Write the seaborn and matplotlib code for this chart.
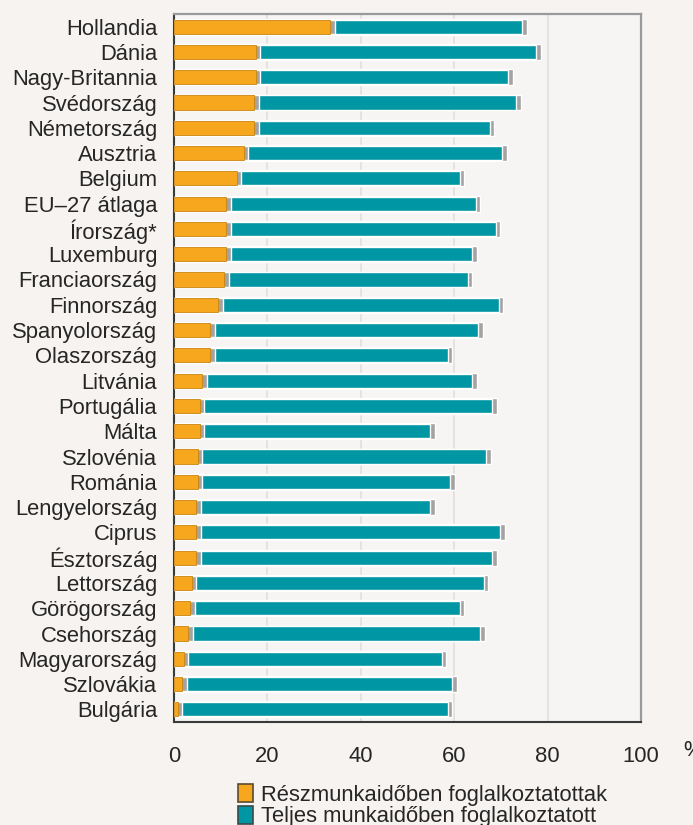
import matplotlib
matplotlib.use('Agg')
import matplotlib.pyplot as plt
from matplotlib.patches import Patch
from matplotlib.ticker import FixedLocator
import seaborn as sns
import pandas as pd

countries = ["Hollandia", "Dánia", "Nagy-Britannia", "Svédország", "Németország",
             "Ausztria", "Belgium", "EU–27 átlaga", "Írország*", "Luxemburg",
             "Franciaország", "Finnország", "Spanyolország", "Olaszország", "Litvánia",
             "Portugália", "Málta", "Szlovénia", "Románia", "Lengyelország",
             "Ciprus", "Észtország", "Lettország", "Görögország", "Csehország",
             "Magyarország", "Szlovákia", "Bulgária"]
part_time = [33.5, 17.5, 17.5, 17.2, 17.2,
             15.0, 13.4, 11.2, 11.2, 11.2,
             10.8, 9.5, 7.8, 7.8, 6.1,
             5.6, 5.6, 5.2, 5.2, 4.8,
             4.8, 4.8, 3.9, 3.5, 3.1,
             2.2, 1.8, 0.8]
total = [74.6, 77.6, 71.6, 73.3, 67.7,
         70.3, 61.3, 64.7, 69.0, 63.9,
         63.0, 69.5, 65.2, 58.7, 63.9,
         68.2, 54.9, 66.9, 59.2, 54.9,
         69.9, 68.2, 66.4, 61.3, 65.6,
         57.4, 59.6, 58.7]
legend_labels = ["Részmunkaidőben foglalkoztatottak", "Teljes munkaidőben foglalkoztatott"]
x_ticks = [0, 20, 40, 60, 80, 100]

df = pd.DataFrame({'country': countries, 'part': part_time, 'total': total})
df['shadow'] = df['total'] + 0.9
df['part_shadow'] = df['part'] + 0.9

sns.set_style('white')
plt.rcParams['font.family'] = ['Liberation Sans', 'DejaVu Sans']

orange = '#F7A71E'
teal = '#0096A3'
gray = '#A3A3A3'
bg = '#F6F3F0'

fig = plt.figure(figsize=(6.93, 8.25), dpi=100, facecolor=bg)
ax = fig.add_axes([174 / 693, 1 - 722 / 825, (641 - 174) / 693, (722 - 14) / 825])
ax.set_facecolor('#F7F5F3')

sns.barplot(data=df, x='shadow', y='country', order=countries, orient='h',
            color=gray, width=0.63, saturation=1, ax=ax, zorder=2)
sns.barplot(data=df, x='total', y='country', order=countries, orient='h',
            color=teal, width=0.56, saturation=1, ax=ax, zorder=3)
sns.barplot(data=df, x='part_shadow', y='country', order=countries, orient='h',
            color=gray, width=0.56, saturation=1, ax=ax, zorder=4)
sns.barplot(data=df, x='part', y='country', order=countries, orient='h',
            color=orange, width=0.56, saturation=1, ax=ax, zorder=5,
            edgecolor='#C98510', linewidth=0.6)

ax.set_xlim(0, 100)
ax.set_ylim(len(countries) - 0.5, -0.5)
ax.set_xticks(x_ticks)
ax.set_xlabel('')
ax.set_ylabel('')
ax.xaxis.grid(True, color='#E2DFDC', linewidth=1.3, zorder=0)
ax.set_axisbelow(True)

ax.tick_params(axis='y', which='major', length=0, labelsize=15.8, pad=12, labelcolor='#262626')
ax.yaxis.set_minor_locator(FixedLocator([i - 0.5 for i in range(len(countries) + 1)]))
ax.tick_params(axis='y', which='minor', length=6, width=1.2, color='#3A3A3A', direction='out')
ax.tick_params(axis='x', length=7, width=1.2, color='#3A3A3A', direction='inout',
               labelsize=15.8, pad=14, labelcolor='#262626')

for side in ['left', 'bottom']:
    ax.spines[side].set_color('#3A3A3A')
    ax.spines[side].set_linewidth(1.5)
for side in ['top', 'right']:
    ax.spines[side].set_color('#9A9A9E')
    ax.spines[side].set_linewidth(1.6)

fig.text(683 / 693, 1 - 750 / 825, '%', fontsize=15.8, color='#262626', va='center')

handles = [Patch(facecolor=orange, edgecolor='#5A4A30', linewidth=1.2),
           Patch(facecolor=teal, edgecolor='#3A4A4A', linewidth=1.2)]
fig.legend(handles, legend_labels, loc='upper left',
           bbox_to_anchor=(238 / 693, 1 - 784 / 825), frameon=False,
           fontsize=15.8, handlelength=0.7, handleheight=0.9, handletextpad=0.35,
           labelspacing=0.0, borderaxespad=0, borderpad=0, labelcolor='#262626')

fig.savefig('out.png', dpi=100, facecolor=bg)
